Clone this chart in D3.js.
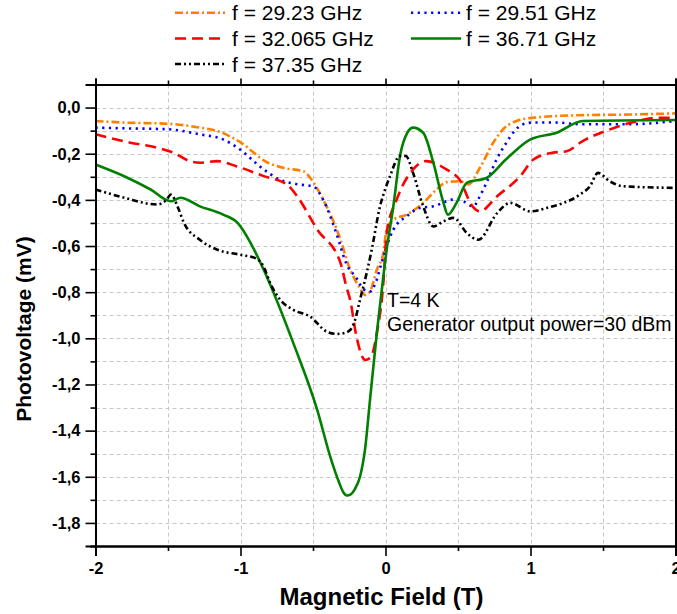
<!DOCTYPE html>
<html>
<head>
<meta charset="utf-8">
<script src="https://cdn.jsdelivr.net/npm/d3@7"></script>
<style>
  body { margin: 0; background: #fff; }
  svg { display: block; font-family: "Liberation Sans", Arial, sans-serif; }
</style>
</head>
<body>
<div class="chart"></div>
<script>
// series: [field (T), photovoltage (mV)]
var f2923 = [[-2.0,-0.058],[-1.8,-0.065],[-1.5,-0.07],[-1.3,-0.085],[-1.14,-0.106],[-1.0,-0.151],[-0.82,-0.236],[-0.7,-0.262],[-0.566,-0.276],[-0.52,-0.304],[-0.43,-0.399],[-0.31,-0.573],[-0.256,-0.681],[-0.176,-0.783],[-0.141,-0.812],[-0.107,-0.797],[-0.06,-0.703],[-0.015,-0.63],[0.008,-0.529],[0.054,-0.486],[0.146,-0.464],[0.26,-0.413],[0.352,-0.355],[0.421,-0.323],[0.513,-0.319],[0.57,-0.333],[0.651,-0.261],[0.743,-0.152],[0.811,-0.094],[0.903,-0.058],[1.018,-0.044],[1.339,-0.033],[1.7,-0.03],[2.0,-0.025]];
var f2951 = [[-2.0,-0.087],[-1.8,-0.09],[-1.5,-0.094],[-1.28,-0.116],[-1.12,-0.138],[-1.02,-0.174],[-0.84,-0.268],[-0.73,-0.312],[-0.6,-0.333],[-0.5,-0.341],[-0.43,-0.399],[-0.34,-0.543],[-0.267,-0.681],[-0.2,-0.739],[-0.153,-0.787],[-0.107,-0.797],[-0.065,-0.754],[-0.03,-0.68],[0.008,-0.602],[0.054,-0.529],[0.077,-0.507],[0.146,-0.471],[0.237,-0.435],[0.329,-0.428],[0.467,-0.399],[0.536,-0.406],[0.604,-0.428],[0.651,-0.384],[0.696,-0.326],[0.766,-0.225],[0.834,-0.152],[0.88,-0.109],[0.949,-0.072],[1.018,-0.065],[1.179,-0.065],[1.339,-0.072],[1.683,-0.072],[2.0,-0.058]];
var f32065 = [[-2.0,-0.116],[-1.76,-0.152],[-1.575,-0.174],[-1.46,-0.196],[-1.35,-0.232],[-1.28,-0.239],[-1.16,-0.232],[-1.03,-0.254],[-0.84,-0.297],[-0.68,-0.333],[-0.61,-0.384],[-0.47,-0.529],[-0.31,-0.674],[-0.27,-0.776],[-0.244,-0.833],[-0.2,-0.993],[-0.14,-1.094],[-0.1,-1.08],[-0.06,-0.978],[-0.015,-0.761],[0.008,-0.543],[0.077,-0.399],[0.19,-0.268],[0.28,-0.232],[0.42,-0.268],[0.51,-0.312],[0.6,-0.428],[0.65,-0.45],[0.77,-0.384],[0.93,-0.297],[1.02,-0.225],[1.15,-0.196],[1.25,-0.189],[1.36,-0.145],[1.52,-0.101],[1.7,-0.065],[1.87,-0.044],[2.0,-0.044]];
var f3671 = [[-2.0,-0.247],[-1.78,-0.304],[-1.62,-0.355],[-1.48,-0.406],[-1.415,-0.391],[-1.28,-0.428],[-1.12,-0.464],[-1.02,-0.5],[-0.93,-0.587],[-0.84,-0.703],[-0.635,-1.022],[-0.47,-1.312],[-0.38,-1.515],[-0.32,-1.625],[-0.29,-1.668],[-0.267,-1.681],[-0.24,-1.676],[-0.21,-1.652],[-0.176,-1.6],[-0.141,-1.48],[-0.107,-1.268],[-0.06,-0.978],[-0.015,-0.732],[0.008,-0.616],[0.054,-0.428],[0.1,-0.21],[0.15,-0.11],[0.19,-0.087],[0.26,-0.109],[0.33,-0.239],[0.4,-0.413],[0.43,-0.464],[0.49,-0.413],[0.56,-0.326],[0.7,-0.304],[0.83,-0.225],[1.0,-0.138],[1.18,-0.109],[1.36,-0.058],[2.0,-0.054]];
var f3735 = [[-2.0,-0.355],[-1.8,-0.391],[-1.575,-0.42],[-1.51,-0.399],[-1.48,-0.377],[-1.43,-0.435],[-1.39,-0.5],[-1.28,-0.573],[-1.16,-0.616],[-1.0,-0.638],[-0.89,-0.655],[-0.84,-0.69],[-0.795,-0.761],[-0.726,-0.833],[-0.635,-0.877],[-0.52,-0.906],[-0.405,-0.971],[-0.336,-0.981],[-0.29,-0.978],[-0.244,-0.964],[-0.21,-0.92],[-0.176,-0.833],[-0.13,-0.717],[-0.095,-0.616],[-0.038,-0.428],[0.0,-0.35],[0.031,-0.297],[0.1,-0.21],[0.14,-0.21],[0.19,-0.283],[0.26,-0.428],[0.33,-0.515],[0.4,-0.493],[0.47,-0.478],[0.56,-0.543],[0.64,-0.573],[0.77,-0.457],[0.86,-0.413],[1.0,-0.45],[1.11,-0.435],[1.34,-0.377],[1.41,-0.341],[1.465,-0.283],[1.545,-0.319],[1.64,-0.341],[2.0,-0.348]];

var seriesNames = ["f = 29.23 GHz", "f = 29.51 GHz", "f = 32.065 GHz", "f = 36.71 GHz", "f = 37.35 GHz"];
var xTicks = [-2, -1, 0, 1, 2];
var yTicks = [0, -0.2, -0.4, -0.6, -0.8, -1.0, -1.2, -1.4, -1.6, -1.8];

(function() {
    var series = [
        {name: seriesNames[0], data: f2923, color: "#ff8000", dash: "8,3,2,3"},
        {name: seriesNames[1], data: f2951, color: "#0000ff", dash: "2.2,4.5"},
        {name: seriesNames[2], data: f32065, color: "#ff0000", dash: "11,6"},
        {name: seriesNames[3], data: f3671, color: "#008000", dash: null},
        {name: seriesNames[4], data: f3735, color: "#000000", dash: "6,3,2,3,2,3"}
    ]

    var width = 677, height = 614
    var pLeft = 95.5, pRight = 675.5, pTop = 84.5, pBottom = 546

    var svg = d3.select(".chart").append("svg")
        .attr("width", width)
        .attr("height", height)

    var x = d3.scaleLinear().domain([-2, 2]).range([pLeft, pRight])
    var y = d3.scaleLinear().domain([-1.9, 0.1]).range([pBottom, pTop])

    // grid (dashed, every minor tick)
    var grid = svg.append("g").attr("stroke", "#c8c8c8").attr("stroke-dasharray", "4,3").attr("stroke-width", 1)
    grid.selectAll(".gx").data([-1.5, -1, -0.5, 0, 0.5, 1, 1.5])
        .enter().append("line")
        .attr("x1", function(d) { return Math.round(x(d)) + 0.5 })
        .attr("x2", function(d) { return Math.round(x(d)) + 0.5 })
        .attr("y1", pTop).attr("y2", pBottom)
    grid.selectAll(".gy").data(d3.range(-18, 1).map(function(d) { return d / 10 }))
        .enter().append("line")
        .attr("y1", function(d) { return Math.round(y(d)) + 0.5 })
        .attr("y2", function(d) { return Math.round(y(d)) + 0.5 })
        .attr("x1", pLeft).attr("x2", pRight)

    svg.append("clipPath").attr("id", "clip")
        .append("rect").attr("x", pLeft).attr("y", pTop).attr("width", pRight - pLeft).attr("height", pBottom - pTop)

    var line = d3.line()
        .x(function(d) { return x(d[0]) })
        .y(function(d) { return y(d[1]) })
        .curve(d3.curveMonotoneX)

    svg.append("g").attr("clip-path", "url(#clip)")
        .selectAll("path").data(series)
        .enter().append("path")
        .attr("d", function(d) { return line(d.data) })
        .attr("fill", "none")
        .attr("stroke", function(d) { return d.color })
        .attr("stroke-width", 2.6)
        .attr("stroke-dasharray", function(d) { return d.dash })

    // axes
    var hyph = function(s) { return s.replace("\u2212", "-") }
    var xAxis = svg.append("g").attr("transform", "translate(0," + pBottom + ")")
        .call(d3.axisBottom(x).tickValues(xTicks).tickSize(10).tickPadding(6)
            .tickFormat(function(d) { return hyph(d3.format("d")(d)) }))
    xAxis.append("g").call(d3.axisBottom(x).tickValues([-1.5, -0.5, 0.5, 1.5]).tickSize(5).tickFormat(""))

    var xTop = svg.append("g").attr("transform", "translate(0," + pTop + ")")
        .call(d3.axisTop(x).tickValues(xTicks).tickSize(6).tickFormat(""))
    xTop.append("g").call(d3.axisTop(x).tickValues([-1.5, -0.5, 0.5, 1.5]).tickSize(4).tickFormat(""))

    var yAxis = svg.append("g").attr("transform", "translate(" + pLeft + ",0)")
        .call(d3.axisLeft(y).tickValues(yTicks).tickSize(10).tickPadding(5)
            .tickFormat(function(d) { return hyph(d3.format(".1f")(d)).replace(".", ",") }))
    yAxis.append("g").call(d3.axisLeft(y).tickValues([-1.9, -1.7, -1.5, -1.3, -1.1, -0.9, -0.7, -0.5, -0.3, -0.1, 0.1]).tickSize(5).tickFormat(""))

    svg.append("g").attr("transform", "translate(" + pRight + ",0)")
        .call(d3.axisRight(y).tickValues(yTicks).tickSize(8).tickFormat(""))

    svg.selectAll(".domain").attr("stroke", "#000").attr("stroke-width", 2)
    svg.selectAll(".tick line").attr("stroke", "#000").attr("stroke-width", 1.6)
    svg.selectAll(".tick text").attr("font-size", 16.5).attr("font-weight", "bold")
        .attr("font-family", "Liberation Sans, Arial, sans-serif").attr("fill", "#000")

    // titles
    svg.append("text").attr("x", (pLeft + pRight) / 2 - 4).attr("y", 605)
        .attr("text-anchor", "middle").attr("font-size", 24).attr("font-weight", "bold")
        .text("Magnetic Field (T)")
    svg.append("text").attr("transform", "translate(31,329) rotate(-90)")
        .attr("text-anchor", "middle").attr("font-size", 21).attr("font-weight", "bold")
        .text("Photovoltage (mV)")

    // annotation
    svg.append("text").attr("x", 387).attr("y", 307).attr("font-size", 19.5).text("T=4 K")
    svg.append("text").attr("x", 387).attr("y", 331).attr("font-size", 19.5).text("Generator output power=30 dBm")

    // legend
    var legPos = [[175, 12.7], [411, 12.7], [175, 38.5], [411, 38.5], [175, 64]]
    var leg = svg.selectAll(".leg").data(series).enter().append("g")
        .attr("transform", function(d, i) { return "translate(" + legPos[i][0] + "," + legPos[i][1] + ")" })
    leg.append("line").attr("x1", 0).attr("x2", 50).attr("y1", 0).attr("y2", 0)
        .attr("stroke", function(d) { return d.color })
        .attr("stroke-width", 2.6)
        .attr("stroke-dasharray", function(d) { return d.dash })
    leg.append("text").attr("x", function(d, i) { return i % 2 ? 55 : 57 }).attr("dy", "0.36em")
        .attr("font-size", 21).text(function(d) { return d.name })
})();
</script>
</body>
</html>
